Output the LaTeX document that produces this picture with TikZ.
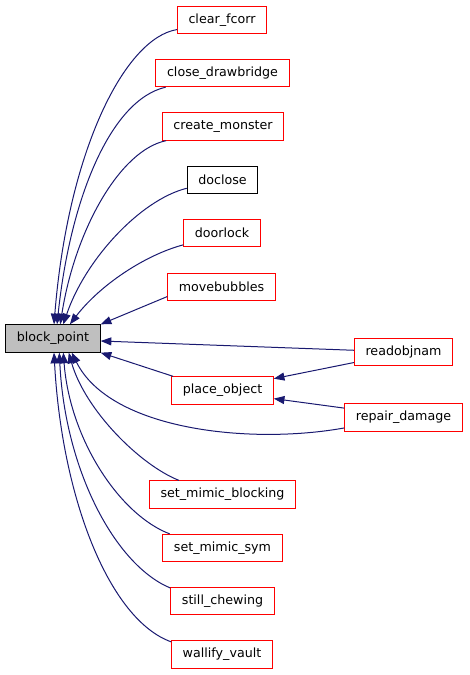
\documentclass[tikz,border=0pt]{standalone}
\usepackage{fontspec}
\setmainfont{DejaVu Sans}
\usetikzlibrary{arrows.meta}
\definecolor{edgeblue}{HTML}{191970}
\definecolor{boxgray}{HTML}{BFBFBF}
\tikzset{
  fnbox/.style={draw=red,line width=0.75pt,inner xsep=8.3pt,inner ysep=0pt,
                minimum height=20.5pt,font=\fontsize{9.5}{11}\selectfont},
  callarrow/.style={edgeblue,line width=0.75pt,-{Triangle[length=8pt,width=6pt]}}
}
\begin{document}
\begin{tikzpicture}[x=0.75pt,y=-0.75pt]
  \useasboundingbox (0,0) rectangle (469,675);
  % Called function
  \node[fnbox,draw=black,fill=boxgray] (block_point) at (53,338.5) {block\_point};
  % Callers
  \node[fnbox] (clear_fcorr) at (222,20) {clear\_fcorr};
  \node[fnbox] (close_drawbridge) at (222.5,73) {close\_drawbridge};
  \node[fnbox] (create_monster) at (223,126.5) {create\_monster};
  \node[fnbox,draw=black] (doclose) at (222.5,180) {doclose};
  \node[fnbox] (doorlock) at (222,233) {doorlock};
  \node[fnbox] (movebubbles) at (221.5,287) {movebubbles};
  \node[fnbox] (place_object) at (222.5,390.5) {place\_object};
  \node[fnbox] (readobjnam) at (403.5,352) {readobjnam};
  \node[fnbox] (repair_damage) at (403.5,417.5) {repair\_damage};
  \node[fnbox] (set_mimic_blocking) at (222.5,494.5) {set\_mimic\_blocking};
  \node[fnbox] (set_mimic_sym) at (222.5,548) {set\_mimic\_sym};
  \node[fnbox] (still_chewing) at (222.5,601) {still\_chewing};
  \node[fnbox] (wallify_vault) at (222,654.5) {wallify\_vault};
  % Edges from above
  \draw[callarrow] (clear_fcorr.192) .. controls (125,38) and (68,150) .. (block_point.86);
  \draw[callarrow] (close_drawbridge.194) .. controls (110,100) and (70,200) .. (block_point.74);
  \draw[callarrow] (create_monster.194) .. controls (120,150) and (75,230) .. (block_point.63);
  \draw[callarrow] (doclose.193) .. controls (140,200) and (85,260) .. (block_point.54);
  \draw[callarrow] (doorlock.197) .. controls (145,255) and (100,285) .. (block_point.40);
  \draw[callarrow] (movebubbles.190) -- (block_point.north east);
  % Edges on the right
  \draw[callarrow] (readobjnam.178) -- (block_point.357);
  \draw[callarrow] (readobjnam.192) -- (place_object.13.5);
  \draw[callarrow] (repair_damage.171) -- (place_object.351);
  \draw[callarrow] (place_object.164) -- (block_point.south east);
  \draw[callarrow] (repair_damage.190) .. controls (250,445) and (110,430) .. (block_point.323);
  % Edges from below
  \draw[callarrow] (set_mimic_blocking.162) .. controls (140,465) and (85,410) .. (block_point.318);
  \draw[callarrow] (set_mimic_sym.165.5) .. controls (120,515) and (70,440) .. (block_point.306);
  \draw[callarrow] (still_chewing.166) .. controls (115,565) and (65,470) .. (block_point.294);
  \draw[callarrow] (wallify_vault.166.4) .. controls (110,620) and (62,500) .. (block_point.274);
\end{tikzpicture}
\end{document}
